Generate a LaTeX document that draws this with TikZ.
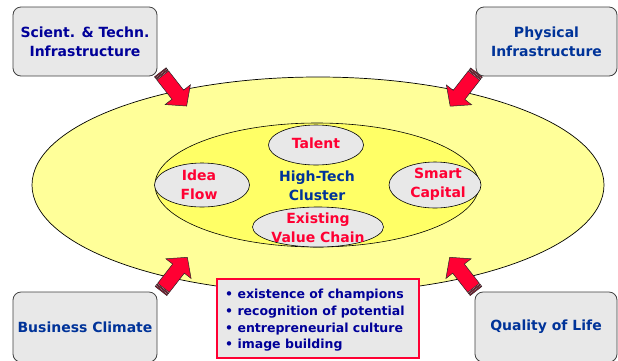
\documentclass[tikz,border=0pt]{standalone}
\usepackage{fontspec}
\setmainfont{DejaVu Sans}
\usetikzlibrary{shapes.geometric}
\definecolor{boxgray}{HTML}{E8E8E8}
\definecolor{outeryellow}{HTML}{FFFF99}
\definecolor{inneryellow}{HTML}{FFFF66}
\definecolor{hotred}{HTML}{FF0033}
\definecolor{navyA}{HTML}{000099}
\definecolor{navyB}{HTML}{003399}
\tikzset{
  factorbox/.style={draw=black!75, line width=0.8pt, fill=boxgray, rounded corners=8pt,
    align=center, inner sep=0pt, font=\bfseries\fontsize{14}{19}\selectfont, text=navyB},
  bubble/.style={ellipse, draw=black, line width=0.6pt, fill=boxgray, inner sep=0pt,
    align=center, font=\bfseries\fontsize{14}{18}\selectfont, text=hotred},
  arrowpart/.style={fill=hotred, draw=black!85, line width=0.5pt, line join=miter},
  stripedarrow/.pic={
    \path[arrowpart] (0,-7.4) rectangle (1.1,7.4);
    \path[arrowpart] (2.0,-7.4) rectangle (3.1,7.4);
    \path[arrowpart] (4.0,-7.4) -- (28.4,-7.4) -- (28.4,-16) -- (42.8,0) -- (28.4,16) -- (28.4,7.4) -- (4.0,7.4) -- cycle;
  }
}
\begin{document}
\begin{tikzpicture}[x=1pt, y=-1pt]
\useasboundingbox (0,0) rectangle (618,360);
\clip (0,0) rectangle (618,360);
\fill[white] (0,0) rectangle (618,360);

% ellipses
\node[ellipse, draw=black, line width=0.7pt, fill=outeryellow, minimum width=572pt, minimum height=216pt, inner sep=0pt] (outer) at (318,185) {};
\node[ellipse, draw=black, line width=0.6pt, fill=inneryellow, minimum width=324pt, minimum height=124pt, inner sep=0pt] (inner) at (317,185) {};

\node[bubble, minimum width=95pt, minimum height=40pt] (talent) at (316,145) {};
\node[bubble, minimum width=95pt, minimum height=44pt] (idea) at (202,185) {};
\node[bubble, minimum width=92pt, minimum height=46pt] (smart) at (435,185) {};
\node[bubble, minimum width=131pt, minimum height=40pt] (chain) at (318,227) {};

\node[font=\bfseries\fontsize{14}{18}\selectfont, text=hotred] (talentT) at (316,143) {Talent};
\node[font=\bfseries\fontsize{14}{19}\selectfont, text=hotred, align=center] (ideaT) at (199,185) {Idea\\Flow};
\node[font=\bfseries\fontsize{14}{19}\selectfont, text=hotred, align=center] (smartT) at (438,184) {Smart\\Capital};
\node[font=\bfseries\fontsize{14}{19}\selectfont, text=hotred, align=center] (chainT) at (318,228) {Existing\\Value Chain};
\node[font=\bfseries\fontsize{14}{19}\selectfont, text=navyB, align=center] (cluster) at (317,186) {High-Tech\\Cluster};

% arrows
\coordinate (tl) at (160.3,72.3);
\coordinate (tr) at (476.5,72.5);
\coordinate (bl) at (161,291);
\coordinate (br) at (476,291);
\pic[rotate=-52] at (tl) {stripedarrow};
\pic[rotate=-128] at (tr) {stripedarrow};
\pic[rotate=52] at (bl) {stripedarrow};
\pic[rotate=128] at (br) {stripedarrow};

% factor boxes
\node[factorbox, minimum width=144pt, minimum height=69pt, text=navyA] (sci) at (85,41.5) {Scient. \& Techn.\\Infrastructure};
\node[factorbox, minimum width=141pt, minimum height=69pt] (phys) at (546.5,41.5) {Physical\\Infrastructure};
\node[factorbox, minimum width=144pt, minimum height=70pt] (bus) at (85,327) {Business Climate};
\node[factorbox, minimum width=142pt, minimum height=70pt] (qol) at (546,327) {Quality of Life};

% bullet box
\node[draw=hotred, line width=2pt, fill=boxgray, minimum width=202pt, minimum height=79pt, inner sep=0pt] (bulletbox) at (318,318.5) {};
\node[anchor=west, align=left, inner sep=0pt, text=navyA, font=\bfseries\fontsize{12.5}{16.7}\selectfont] (bullets) at ([xshift=9pt, yshift=-2pt]bulletbox.west)
  {• existence of champions\\• recognition of potential\\• entrepreneurial culture\\• image building};
\end{tikzpicture}
\end{document}
